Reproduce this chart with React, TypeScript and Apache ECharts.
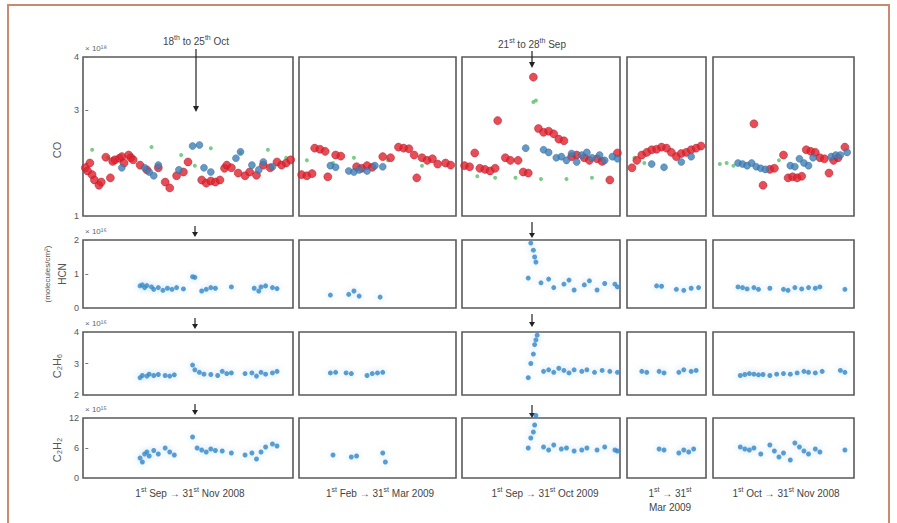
import React, { useEffect, useRef } from 'react';
import * as echarts from 'echarts';

// ---------- data (day index within each period, value) ----------
const periodDays = [91, 59, 61, 31, 61];

const coRed: number[][][] = [
  [[0,1.91],[1,1.85],[2,2.0],[3,1.78],[4,1.68],[6,1.58],[7,1.64],[9,2.11],[11,1.72],[12,2.03],[13,2.06],[15,2.09],[16,2.12],[17,2.0],[19,2.15],[20,2.1],[21,2.06],[24,1.96],[27,1.87],[32,1.91],[35,1.64],[37,1.53],[40,1.76],[43,1.83],[45,2.02],[51,1.68],[53,1.62],[55,1.66],[57,1.64],[59,1.68],[61,1.9],[62,1.96],[64,1.91],[67,1.81],[70,1.76],[72,1.83],[75,1.77],[78,1.96],[81,1.91],[84,2.02],[86,1.96],[88,2.0],[90,2.06]],
  [[0,1.78],[2,1.76],[4,1.8],[5,2.28],[7,2.26],[9,2.22],[10,1.74],[13,2.15],[15,2.13],[21,1.93],[23,1.9],[25,1.95],[27,1.92],[31,2.12],[34,2.1],[37,2.3],[39,2.28],[41,2.27],[43,2.15],[44,1.72],[46,2.1],[48,2.05],[50,2.08],[52,1.98],[55,2.0],[57,1.96]],
  [[0,1.95],[2,1.93],[4,2.19],[6,1.9],[8,1.88],[10,1.85],[12,1.9],[13,2.8],[16,2.1],[18,2.05],[21,2.05],[23,1.83],[25,1.81],[27,3.62],[29,2.65],[31,2.58],[33,2.6],[35,2.55],[37,2.45],[39,2.42],[42,2.12],[44,2.15],[47,2.1],[49,2.05],[52,2.08],[54,2.03],[57,1.68],[60,2.19]],
  [[1,1.91],[3,2.05],[5,2.15],[7,2.2],[9,2.25],[11,2.26],[13,2.3],[15,2.28],[17,2.2],[19,2.12],[21,2.18],[23,2.2],[25,2.25],[27,2.28],[29,2.32]],
  [[17,2.74],[21,1.58],[24,1.88],[26,1.9],[30,2.15],[32,1.72],[34,1.74],[36,1.72],[38,1.75],[40,2.25],[42,2.22],[44,2.2],[46,2.1],[48,2.08],[50,1.81],[52,2.05],[54,2.1],[57,2.3]],
];

const coBlue: number[][][] = [
  [[16,1.91],[26,1.91],[28,1.83],[30,1.76],[32,1.96],[41,1.87],[47,2.32],[50,2.34],[52,1.91],[55,1.83],[66,2.09],[68,2.21],[73,1.96],[76,1.87],[78,2.02],[82,1.93]],
  [[11,1.95],[13,1.92],[18,1.85],[20,1.83],[22,1.87],[25,1.85],[28,1.95],[31,1.93]],
  [[24,2.28],[31,2.25],[33,2.2],[36,2.1],[38,2.12],[40,2.05],[42,2.18],[44,2.02],[46,2.15],[48,2.2],[50,2.1],[53,2.15],[55,2.05],[58,2.12],[60,2.08]],
  [[9,1.98],[14,1.92],[21,2.02],[25,2.12]],
  [[10,2.0],[12,1.98],[14,1.95],[16,2.0],[18,1.93],[20,1.9],[22,1.88],[33,1.95],[35,1.93],[37,2.08],[39,2.0],[41,1.95],[43,2.1],[51,2.12],[53,2.15],[55,2.15],[58,2.2]],
];

const coGreen: number[][][] = [
  [[3,2.25],[10,2.1],[29,2.3],[42,2.15],[48,1.95],[55,2.28],[68,2.2],[80,2.25],[88,2.1]],
  [[2,2.05],[12,2.0],[20,2.1],[33,2.05],[46,1.95]],
  [[27,3.15],[28,3.18],[5,1.75],[12,1.72],[20,1.72],[30,1.7],[40,1.7],[50,1.72]],
  [[2,2.1],[6,2.0]],
  [[2,1.98],[5,2.0],[8,1.95],[28,2.05]],
];

const hcn: number[][][] = [
  [[24,0.65],[25,0.68],[26,0.6],[27,0.66],[29,0.62],[30,0.55],[32,0.6],[34,0.52],[36,0.58],[38,0.55],[40,0.6],[43,0.56],[47,0.92],[48,0.9],[51,0.5],[53,0.55],[55,0.6],[57,0.58],[64,0.62],[74,0.58],[76,0.5],[77,0.62],[79,0.65],[82,0.6],[84,0.57]],
  [[11,0.38],[18,0.4],[20,0.5],[22,0.35],[30,0.32]],
  [[25,0.88],[26,1.91],[27,1.7],[27.5,1.5],[28,1.35],[30,0.74],[33,0.85],[35,0.6],[39,0.7],[41,0.82],[43,0.53],[47,0.68],[49,0.8],[52,0.53],[55,0.72],[59,0.7],[60,0.62]],
  [[11,0.65],[13,0.64],[19,0.55],[22,0.52],[25,0.58],[28,0.6]],
  [[10,0.62],[12,0.6],[14,0.56],[17,0.6],[19,0.55],[24,0.58],[30,0.55],[32,0.52],[35,0.6],[38,0.56],[41,0.6],[44,0.58],[46,0.62],[57,0.55]],
];

const c2h6: number[][][] = [
  [[24,2.55],[25,2.62],[27,2.6],[28,2.66],[30,2.62],[32,2.65],[35,2.62],[37,2.6],[39,2.64],[47,2.95],[48,2.8],[50,2.72],[52,2.66],[55,2.65],[58,2.62],[60,2.75],[62,2.68],[64,2.7],[70,2.68],[73,2.7],[75,2.6],[77,2.72],[79,2.66],[82,2.7],[84,2.75]],
  [[11,2.7],[13,2.72],[17,2.7],[19,2.68],[25,2.62],[27,2.68],[29,2.7],[31,2.72]],
  [[25,2.55],[26,3.0],[27,3.3],[27.5,3.6],[28,3.75],[28.5,3.9],[31,2.75],[33,2.8],[35,2.72],[37,2.85],[39,2.78],[41,2.7],[43,2.8],[46,2.75],[48,2.8],[51,2.72],[54,2.78],[57,2.75],[60,2.72]],
  [[5,2.75],[7,2.72],[12,2.75],[14,2.7],[20,2.72],[22,2.8],[25,2.75],[27,2.78]],
  [[11,2.62],[13,2.65],[15,2.68],[17,2.66],[19,2.64],[21,2.65],[24,2.62],[27,2.66],[30,2.68],[33,2.66],[36,2.7],[39,2.75],[41,2.72],[44,2.7],[47,2.75],[55,2.78],[57,2.72]],
];

const c2h2: number[][][] = [
  [[24,4.0],[25,3.2],[26,4.8],[27,5.2],[28,4.4],[30,5.5],[32,4.8],[35,6.0],[37,5.2],[39,4.6],[47,8.2],[49,6.0],[51,5.6],[53,5.2],[55,5.8],[57,5.5],[60,5.4],[64,5.0],[70,4.6],[73,5.0],[75,3.8],[77,5.2],[79,6.2],[82,6.8],[84,6.4]],
  [[12,4.6],[19,4.2],[21,4.4],[31,5.0],[32,3.2]],
  [[25,6.0],[26,8.0],[27,9.2],[27.5,10.6],[28,12.5],[31,6.2],[33,5.6],[35,6.6],[38,5.8],[40,6.0],[43,5.4],[46,5.6],[48,6.0],[52,5.6],[55,6.2],[59,5.6],[60,5.4]],
  [[12,5.8],[14,5.6],[20,5.0],[22,5.6],[24,5.2],[26,5.8]],
  [[11,6.2],[13,5.8],[15,5.6],[17,6.0],[20,4.8],[24,6.6],[26,5.4],[28,4.2],[30,5.0],[33,3.6],[35,7.0],[37,6.2],[39,5.4],[41,4.8],[44,5.8],[46,5.2],[57,5.6]],
];

const rowMin = [1, 0, 2, 0];
const rowMax = [4, 2, 4, 12];
const rowInterval = [1, 1, 1, 6];
const rowMultipliers = ['× 10¹⁸', '× 10¹⁶', '× 10¹⁶', '× 10¹⁵'];

const periodLabels = [
  '{a|1}{s|st}{a| Sep → 31}{s|st}{a| Nov 2008}',
  '{a|1}{s|st}{a| Feb → 31}{s|st}{a| Mar 2009}',
  '{a|1}{s|st}{a| Sep → 31}{s|st}{a| Oct 2009}',
  '{a|1}{s|st}{a| → 31}{s|st}\n{a|Mar 2009}',
  '{a|1}{s|st}{a| Oct → 31}{s|st}{a| Nov 2008}',
];

// ---------- layout ----------
const colLeft = [83, 299, 462, 627, 713];
const colWidth = [210, 157, 158, 79, 141];
const rowTop = [57, 240, 332, 418];
const rowHeight = [159, 68, 63, 60];
const FONT = 'Liberation Sans, Arial, sans-serif';

const richStyle = {
  a: { fontSize: 10, fontFamily: FONT, fill: '#444', lineHeight: 14 },
  s: { fontSize: 7, fontFamily: FONT, fill: '#444', verticalAlign: 'top', lineHeight: 14 },
};

function arrow(x: number, y1: number, y2: number, head = 5) {
  return [
    { type: 'line', shape: { x1: x, y1, x2: x, y2: y2 - head }, style: { stroke: '#222', lineWidth: 1.2 } },
    { type: 'polygon', shape: { points: [[x - 3, y2 - head], [x + 3, y2 - head], [x, y2]] }, style: { fill: '#222' } },
  ];
}

export default function App() {
  const ref = useRef<HTMLDivElement>(null);
  useEffect(() => {
    if (!ref.current) return;
    const chart = echarts.init(ref.current, undefined, { renderer: 'svg' });
    const grids: any[] = [];
    const xAxes: any[] = [];
    const yAxes: any[] = [];
    const series: any[] = [];
    for (let r = 0; r < 4; r++) {
      for (let c = 0; c < 5; c++) {
        const gi = r * 5 + c;
        grids.push({
          left: colLeft[c], top: rowTop[r], width: colWidth[c], height: rowHeight[r],
          show: true, borderColor: '#5a5a5a', borderWidth: 1.6, backgroundColor: 'transparent',
        });
        xAxes.push({
          gridIndex: gi, type: 'value', min: -1, max: periodDays[c],
          axisLine: { show: false }, axisTick: { show: false }, axisLabel: { show: false }, splitLine: { show: false },
        });
        yAxes.push({
          gridIndex: gi, type: 'value', min: rowMin[r], max: rowMax[r], interval: rowInterval[r],
          axisLine: { show: false }, splitLine: { show: false },
          axisTick: { show: c === 0, inside: true, length: 3, lineStyle: { color: '#777' } },
          axisLabel: {
            show: c === 0, fontSize: 9, color: '#555', margin: 4, fontFamily: FONT,
            formatter: (v: number) => (r === 0 && v === 2 ? '' : String(v)),
          },
        });
        if (r === 0) {
          series.push({ type: 'scatter', xAxisIndex: gi, yAxisIndex: gi, data: coGreen[c], symbolSize: 4, clip: false,
            itemStyle: { color: '#57c06c', opacity: 0.8 } });
          series.push({ type: 'scatter', xAxisIndex: gi, yAxisIndex: gi, data: coRed[c], symbolSize: 8, clip: false,
            itemStyle: { color: '#e0212b', borderColor: '#b01830', borderWidth: 0.6 } });
          series.push({ type: 'scatter', xAxisIndex: gi, yAxisIndex: gi, data: coBlue[c], symbolSize: 7, clip: false,
            itemStyle: { color: '#3f7fb6', borderColor: '#2e6294', borderWidth: 0.5 } });
        } else {
          const d = r === 1 ? hcn[c] : r === 2 ? c2h6[c] : c2h2[c];
          series.push({ type: 'scatter', xAxisIndex: gi, yAxisIndex: gi, data: d, symbolSize: 5, clip: false,
            itemStyle: { color: '#2f86c6', shadowBlur: 6, shadowColor: 'rgba(120,185,235,0.6)' } });
        }
      }
    }

    const graphic: any[] = [
      { type: 'polyline', shape: { points: [[8, 523], [8, 5], [889, 5], [889, 523]] }, style: { stroke: '#c98a70', lineWidth: 2, fill: 'none' } },
      { type: 'text', x: 196, y: 41, style: { text: '{a|18}{s|th}{a| to 25}{s|th}{a| Oct}', rich: richStyle, align: 'center', verticalAlign: 'middle' } },
      { type: 'text', x: 532, y: 44, style: { text: '{a|21}{s|st}{a| to 28}{s|th}{a| Sep}', rich: richStyle, align: 'center', verticalAlign: 'middle' } },
      ...arrow(196, 49, 112, 6),
      ...arrow(532, 51, 68, 6),
      ...arrow(195, 226, 237),
      ...arrow(195, 318, 329),
      ...arrow(195, 404, 415),
      ...arrow(532, 222, 238),
      ...arrow(532, 314, 327),
      ...arrow(532, 405, 418),
      { type: 'text', x: 57, y: 150, rotation: Math.PI / 2, style: { text: 'CO', fontSize: 11, fontFamily: FONT, fill: '#555', align: 'center', verticalAlign: 'middle' } },
      { type: 'text', x: 62, y: 274, rotation: Math.PI / 2, style: { text: 'HCN', fontSize: 10, fontFamily: FONT, fill: '#555', align: 'center', verticalAlign: 'middle' } },
      { type: 'text', x: 47, y: 274, rotation: Math.PI / 2, style: { text: '(molecules/cm²)', fontSize: 8, fontFamily: FONT, fill: '#555', align: 'center', verticalAlign: 'middle' } },
      { type: 'text', x: 57, y: 366, rotation: Math.PI / 2, style: { text: 'C₂H₆', fontSize: 11, fontFamily: FONT, fill: '#555', align: 'center', verticalAlign: 'middle' } },
      { type: 'text', x: 57, y: 450, rotation: Math.PI / 2, style: { text: 'C₂H₂', fontSize: 11, fontFamily: FONT, fill: '#555', align: 'center', verticalAlign: 'middle' } },
    ];
    for (let r = 0; r < 4; r++) {
      graphic.push({ type: 'text', x: 85, y: rowTop[r] - 9, style: { text: rowMultipliers[r], fontSize: 8, fontFamily: FONT, fill: '#666', align: 'left', verticalAlign: 'middle' } });
    }
    const labelCenters = [190, 380, 545, 670, 786];
    for (let c = 0; c < 5; c++) {
      graphic.push({ type: 'text', x: labelCenters[c], y: 486, style: { text: periodLabels[c], rich: richStyle, align: 'center', verticalAlign: 'top' } });
    }

    chart.setOption({
      animation: false,
      backgroundColor: '#ffffff',
      grid: grids,
      xAxis: xAxes,
      yAxis: yAxes,
      series,
      graphic,
    });
    return () => chart.dispose();
  }, []);
  return <div ref={ref} style={{ position: 'absolute', left: 0, top: 0, width: 897, height: 523 }} />;
}
